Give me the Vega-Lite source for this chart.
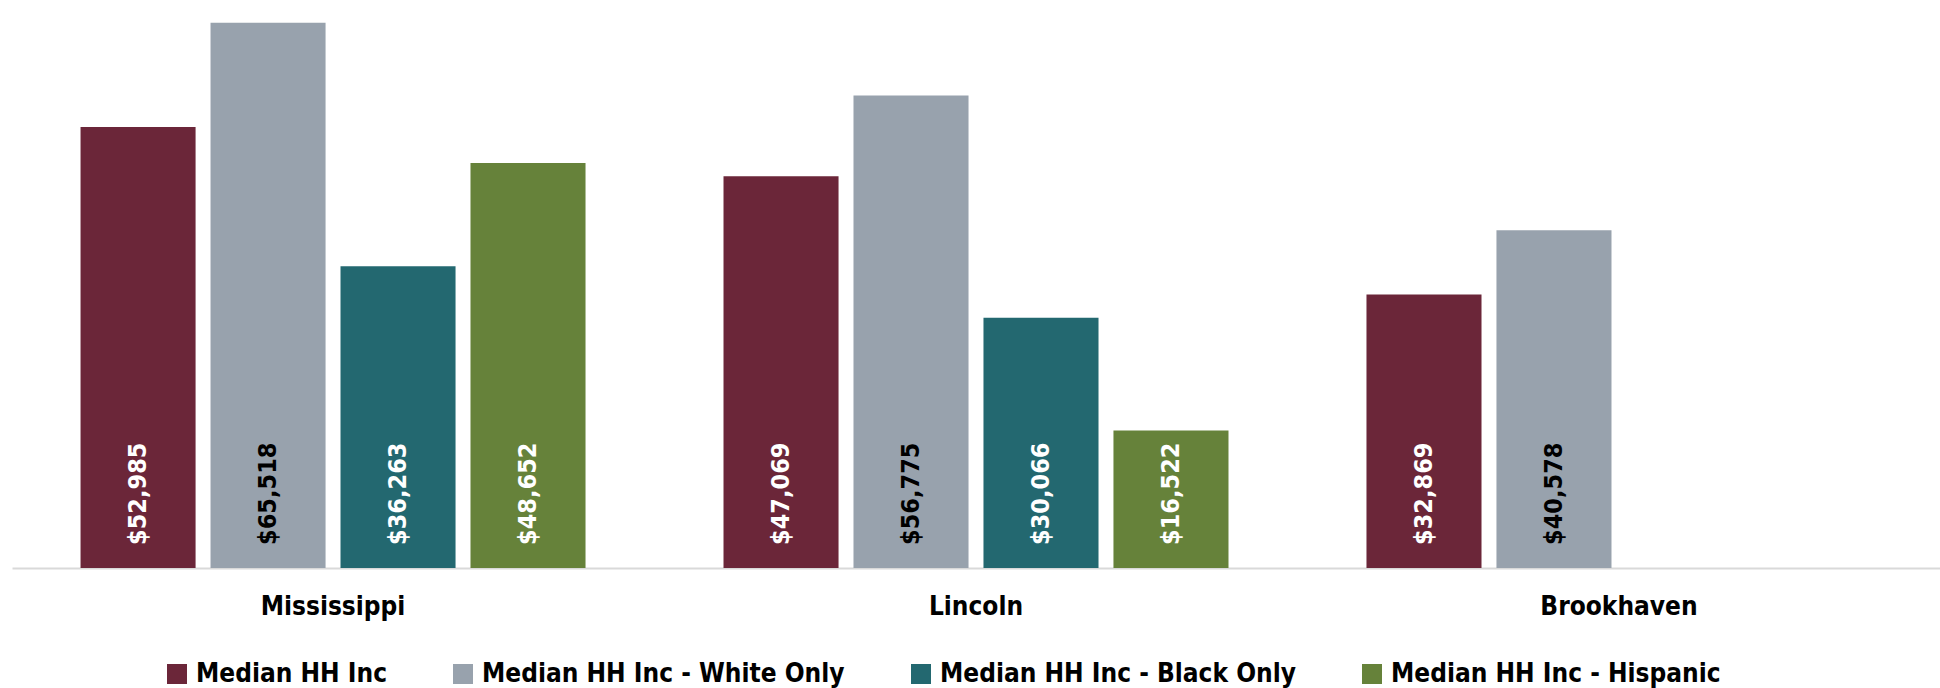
{
  "$schema": "https://vega.github.io/schema/vega-lite/v6.json",
  "width": 1928,
  "height": 566,
  "autosize": {"type": "none"},
  "padding": {"left": 12, "top": 2, "right": 0, "bottom": 120},
  "background": "white",
  "config": {
    "view": {"stroke": null},
    "font": "DejaVu Sans Condensed, Liberation Sans Narrow, Roboto Condensed, Roboto, sans-serif"
  },
  "data": {
    "values": [
      {"place": "Mississippi", "series": "Median HH Inc", "value": 52985},
      {"place": "Mississippi", "series": "Median HH Inc - White Only", "value": 65518},
      {"place": "Mississippi", "series": "Median HH Inc - Black Only", "value": 36263},
      {"place": "Mississippi", "series": "Median HH Inc - Hispanic", "value": 48652},
      {"place": "Lincoln", "series": "Median HH Inc", "value": 47069},
      {"place": "Lincoln", "series": "Median HH Inc - White Only", "value": 56775},
      {"place": "Lincoln", "series": "Median HH Inc - Black Only", "value": 30066},
      {"place": "Lincoln", "series": "Median HH Inc - Hispanic", "value": 16522},
      {"place": "Brookhaven", "series": "Median HH Inc", "value": 32869},
      {"place": "Brookhaven", "series": "Median HH Inc - White Only", "value": 40578}
    ]
  },
  "encoding": {
    "x": {
      "field": "place",
      "type": "nominal",
      "sort": ["Mississippi", "Lincoln", "Brookhaven"],
      "scale": {"paddingInner": 0.2146, "paddingOuter": 0.1066},
      "axis": {
        "title": null,
        "labelAngle": 0,
        "ticks": false,
        "grid": false,
        "domainColor": "#D9D9D9",
        "domainWidth": 2,
        "labelFontSize": 26,
        "labelFontWeight": "bold",
        "labelColor": "#000000",
        "labelPadding": 25
      }
    },
    "xOffset": {
      "field": "series",
      "type": "nominal",
      "sort": ["Median HH Inc", "Median HH Inc - White Only", "Median HH Inc - Black Only", "Median HH Inc - Hispanic"],
      "scale": {"paddingInner": 0.115, "paddingOuter": 0}
    }
  },
  "layer": [
    {
      "mark": {"type": "bar"},
      "encoding": {
        "y": {
          "field": "value",
          "type": "quantitative",
          "scale": {"domain": [0, 68000], "nice": false},
          "axis": null
        },
        "color": {
          "field": "series",
          "type": "nominal",
          "sort": ["Median HH Inc", "Median HH Inc - White Only", "Median HH Inc - Black Only", "Median HH Inc - Hispanic"],
          "scale": {
            "domain": ["Median HH Inc", "Median HH Inc - White Only", "Median HH Inc - Black Only", "Median HH Inc - Hispanic"],
            "range": ["#6B2639", "#98A2AD", "#236870", "#66823A"]
          },
          "legend": {
            "title": null,
            "orient": "none",
            "legendX": 152,
            "legendY": 659,
            "direction": "horizontal",
            "columns": 4,
            "padding": 0,
            "symbolType": "square",
            "symbolSize": 400,
            "symbolStrokeWidth": 0,
            "symbolOpacity": 1,
            "labelFontSize": 26,
            "labelFontWeight": "bold",
            "labelColor": "#000000",
            "labelOffset": 6,
            "labelLimit": 1000,
            "columnPadding": 63
          }
        }
      }
    },
    {
      "mark": {
        "type": "text",
        "angle": -90,
        "align": "left",
        "baseline": "middle",
        "dx": 23,
        "fontSize": 25,
        "fontWeight": "bold"
      },
      "encoding": {
        "y": {"datum": 0, "type": "quantitative"},
        "text": {"field": "value", "type": "quantitative", "format": "$,.0f"},
        "color": {
          "condition": {"test": "datum.series === 'Median HH Inc - White Only'", "value": "#000000"},
          "value": "#FFFFFF"
        }
      }
    }
  ]
}
